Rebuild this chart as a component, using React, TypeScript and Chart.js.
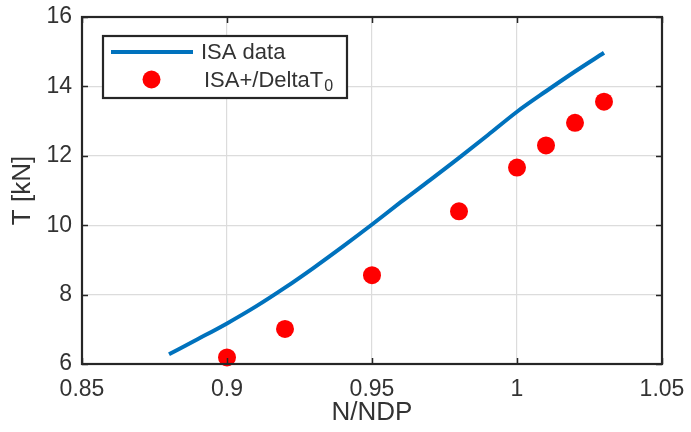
import React, { useEffect, useRef } from 'react';
import { Chart, registerables } from 'chart.js';

Chart.register(...registerables);

// ISA data (line)
const lineX = [0.88, 0.89, 0.9, 0.91, 0.92, 0.93, 0.94, 0.95, 0.96, 0.97, 0.98, 0.99, 1.0, 1.01, 1.02, 1.03];
const lineT = [6.28, 6.72, 7.17, 7.66, 8.2, 8.78, 9.39, 10.02, 10.67, 11.3, 11.94, 12.6, 13.27, 13.86, 14.43, 14.97];

// ISA+/DeltaT0 (markers)
const dotX = [0.9, 0.92, 0.95, 0.98, 1.0, 1.01, 1.02, 1.03];
const dotT = [6.19, 7.01, 8.56, 10.4, 11.66, 12.3, 12.95, 13.56];

const xTicks = [0.85, 0.9, 0.95, 1, 1.05];
const xTickLabels = ['0.85', '0.9', '0.95', '1', '1.05'];
const yTicks = [6, 8, 10, 12, 14, 16];
const yTickLabels = ['6', '8', '10', '12', '14', '16'];

const seriesNames = ['ISA data', 'ISA+/DeltaT'];
const seriesSubscripts = ['', '0'];
const xTitle = 'N/NDP';
const yTitle = 'T [kN]';

const BLUE = '#0072BD';
const RED = '#FF0000';
const TEXT = '#333333';
const FONT = "'Liberation Sans', Arial, sans-serif";

const framePlugin = {
  id: 'frame',
  afterDatasetsDraw(chart: any) {
    const { ctx, chartArea: a, scales } = chart;
    ctx.save();
    ctx.strokeStyle = '#262626';
    ctx.lineWidth = 1.5;
    const L = 6;
    ctx.beginPath();
    xTicks.forEach((v) => {
      const px = Math.round(scales.x.getPixelForValue(v)) + 0.5;
      ctx.moveTo(px, a.bottom);
      ctx.lineTo(px, a.bottom - L);
      ctx.moveTo(px, a.top);
      ctx.lineTo(px, a.top + L);
    });
    yTicks.forEach((v) => {
      const py = Math.round(scales.y.getPixelForValue(v)) + 0.5;
      ctx.moveTo(a.left, py);
      ctx.lineTo(a.left + L, py);
      ctx.moveTo(a.right, py);
      ctx.lineTo(a.right - L, py);
    });
    ctx.stroke();
    ctx.lineWidth = 2.2;
    ctx.strokeRect(a.left, a.top, a.right - a.left, a.bottom - a.top);
    ctx.restore();
  },
};

const legendPlugin = {
  id: 'customLegend',
  afterDraw(chart: any) {
    const { ctx, chartArea: a } = chart;
    const x0 = a.left + 21;
    const y0 = a.top + 19;
    const w = 244;
    const h = 62;
    ctx.save();
    ctx.fillStyle = '#ffffff';
    ctx.fillRect(x0, y0, w, h);
    ctx.strokeStyle = '#262626';
    ctx.lineWidth = 2.2;
    ctx.strokeRect(x0, y0, w, h);

    const row1 = y0 + 16;
    const row2 = y0 + 43.5;
    // line sample
    ctx.strokeStyle = BLUE;
    ctx.lineWidth = 4;
    ctx.beginPath();
    ctx.moveTo(x0 + 8, row1);
    ctx.lineTo(x0 + 90, row1);
    ctx.stroke();
    // marker sample
    ctx.fillStyle = RED;
    ctx.beginPath();
    ctx.arc(x0 + 48.5, row2, 9, 0, Math.PI * 2);
    ctx.fill();

    ctx.fillStyle = TEXT;
    ctx.textBaseline = 'middle';
    ctx.textAlign = 'left';
    ctx.font = `22px ${FONT}`;
    ctx.fillText(seriesNames[0], x0 + 98, row1 + 1);
    ctx.fillText(seriesNames[1], x0 + 101, row2 + 1);
    const tw = ctx.measureText(seriesNames[1]).width;
    ctx.font = `16px ${FONT}`;
    ctx.fillText(seriesSubscripts[1], x0 + 101 + tw + 1, row2 + 7);
    ctx.restore();
  },
};

export default function App() {
  const ref = useRef<HTMLCanvasElement | null>(null);

  useEffect(() => {
    document.body.style.margin = '0';
    const canvas = ref.current;
    if (!canvas) return;
    const chart = new Chart(canvas, {
      type: 'scatter',
      data: {
        datasets: [
          {
            label: seriesNames[0],
            data: lineX.map((x, i) => ({ x, y: lineT[i] })),
            showLine: true,
            borderColor: BLUE,
            backgroundColor: BLUE,
            borderWidth: 4,
            pointRadius: 0,
            pointHoverRadius: 0,
            cubicInterpolationMode: 'monotone',
            clip: false,
          },
          {
            label: seriesNames[1] + seriesSubscripts[1],
            data: dotX.map((x, i) => ({ x, y: dotT[i] })),
            showLine: false,
            backgroundColor: RED,
            borderColor: RED,
            borderWidth: 0,
            pointRadius: 9,
            pointHoverRadius: 9,
            clip: false,
          },
        ],
      },
      options: {
        responsive: false,
        animation: false,
        events: [],
        layout: { padding: { top: 17, right: 29, left: 0, bottom: 0 } },
        plugins: {
          legend: { display: false },
          tooltip: { enabled: false },
        },
        scales: {
          x: {
            type: 'linear',
            min: 0.85,
            max: 1.05,
            afterBuildTicks: (s: any) => {
              s.ticks = xTicks.map((v) => ({ value: v }));
            },
            afterFit: (s: any) => {
              s.height = 68;
              s.paddingLeft = 0;
              s.paddingRight = 0;
            },
            ticks: {
              callback: (_v: any, i: number) => xTickLabels[i],
              color: TEXT,
              font: { family: FONT, size: 23 },
              padding: 12,
              maxRotation: 0,
              autoSkip: false,
            },
            grid: { color: '#dcdcdc', lineWidth: 1.2, drawTicks: false },
            border: { display: false },
            title: {
              display: true,
              text: xTitle,
              color: TEXT,
              font: { family: FONT, size: 26 },
              padding: { top: 0, bottom: 4 },
            },
          },
          y: {
            type: 'linear',
            min: 6,
            max: 16,
            afterBuildTicks: (s: any) => {
              s.ticks = yTicks.map((v) => ({ value: v }));
            },
            afterFit: (s: any) => {
              s.width = 82;
              s.paddingTop = 0;
              s.paddingBottom = 0;
            },
            ticks: {
              callback: (_v: any, i: number) => yTickLabels[i],
              color: TEXT,
              font: { family: FONT, size: 23 },
              padding: 10,
              autoSkip: false,
            },
            grid: { color: '#dcdcdc', lineWidth: 1.2, drawTicks: false },
            border: { display: false },
            title: {
              display: true,
              text: yTitle,
              color: TEXT,
              font: { family: FONT, size: 26 },
              padding: { top: 7, bottom: 0 },
            },
          },
        },
      },
      plugins: [framePlugin, legendPlugin],
    } as any);
    return () => chart.destroy();
  }, []);

  return (
    <div style={{ width: 691, height: 432 }}>
      <canvas ref={ref} width={691} height={432} style={{ display: 'block' }} />
    </div>
  );
}
